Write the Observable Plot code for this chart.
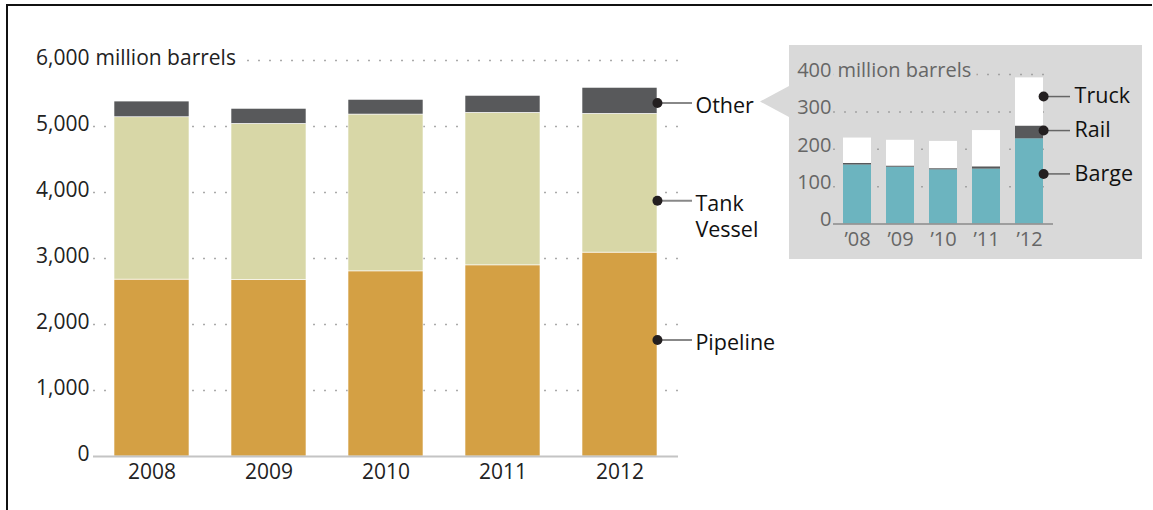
<!DOCTYPE html>
<html>
<head>
<meta charset="utf-8">
<script src="https://cdn.jsdelivr.net/npm/d3@7"></script>
<script src="https://cdn.jsdelivr.net/npm/@observablehq/plot@0.6"></script>
<style>
  html, body { margin: 0; padding: 0; background: #fff; }
  #chart { position: relative; width: 1153px; height: 510px; overflow: hidden; }
  #frame { position: absolute; left: 6px; top: 4px; width: 1146px; height: 520px;
           border-top: 2px solid #111; border-left: 2px solid #111; box-sizing: border-box; }
  #chart svg { position: absolute; left: 0; top: 0; }
</style>
</head>
<body>
<div id="chart"><div id="frame"></div></div>
<script>
// Crude oil moved by mode of transport, million barrels
const years = ["2008", "2009", "2010", "2011", "2012"];
const pipeline = [2680, 2675, 2805, 2896, 3089];
const tankVessel = [2460, 2365, 2376, 2311, 2103];
const other = [238, 228, 223, 258, 394];
const modes = ["Pipeline", "Tank Vessel", "Other"];
const modeColors = ["#d4a044", "#d8d7a7", "#58595b"];
const mainTicks = [0, 1000, 2000, 3000, 4000, 5000, 6000];
const mainLabels = ["Other", "Tank\nVessel", "Pipeline"];
const mainLabelAt = [5355, 3875, 1765];

// Breakdown of "Other"
const insetYears = ["\u201908", "\u201909", "\u201910", "\u201911", "\u201912"];
const barge = [158, 152, 145, 147, 228];
const rail = [4, 3, 3, 6, 34];
const truck = [68, 69, 73, 97, 129];
const insetModes = ["Barge", "Rail", "Truck"];
const insetColors = ["#6cb4bf", "#58595b", "#ffffff"];
const insetTicks = [0, 100, 200, 300, 400];
const insetLabels = ["Truck", "Rail", "Barge"];
const insetLabelAt = [341, 250, 134];

const W = 1153, H = 510;
const font = "'Open Sans', sans-serif";
const fmt = d3.format(",");

// ---- main stacked bars ----
const mainLeft = 93, mainRight = 678, mainBase = 456, mainTop = 60;
const mainInner = 0.36, mainOuter = 0.18;
const mainBw = (mainRight - mainLeft) / (years.length - mainInner + 2 * mainOuter) * (1 - mainInner);
const series = [pipeline, tankVessel, other];
const rows = years.flatMap((year, i) => modes.map((mode, j) => ({year, mode, value: series[j][i]})));
const lastYear = years[years.length - 1];

const main = Plot.plot({
  width: W, height: H,
  marginLeft: mainLeft, marginRight: W - mainRight, marginTop: mainTop, marginBottom: H - mainBase,
  style: {fontFamily: font, fontSize: "21px", color: "#222", background: "transparent", overflow: "visible"},
  x: {domain: years, paddingInner: mainInner, paddingOuter: mainOuter},
  y: {domain: [0, 6000], axis: null},
  color: {domain: modes, range: modeColors},
  marks: [
    Plot.ruleY(mainTicks.filter(d => d > 0), {stroke: "#aaa", strokeWidth: 1.5, strokeDasharray: "2,9"}),
    Plot.barY(rows, {x: "year", y: "value", fill: "mode", order: modes, stroke: "#fff", strokeWidth: 0.6}),
    Plot.ruleY([0], {stroke: "#c4c4c4", strokeWidth: 2}),
    Plot.axisX({tickSize: 0, tickPadding: 8, fontSize: 21, fill: "#222", label: null}),
    Plot.text([mainTicks[mainTicks.length - 1]], {y: d => d, text: () => "million barrels", frameAnchor: "left",
      textAnchor: "start", dx: 2, dy: -2, fill: "#222", stroke: "#fff", strokeWidth: 14, paintOrder: "stroke"}),
    Plot.text(mainTicks, {y: d => d, text: d => fmt(d), frameAnchor: "left", textAnchor: "end", dx: -4, dy: -2, fill: "#222"}),
    Plot.tickY(mainLabelAt, {x: () => lastYear, y: d => d, dx: mainBw, insetRight: mainBw - 35, stroke: "#888", strokeWidth: 2}),
    Plot.dot(mainLabelAt, {x: () => lastYear, y: d => d, dx: mainBw / 2, r: 5, fill: "#231f20"}),
    Plot.text(mainLabelAt, {x: () => lastYear, y: d => d, text: (d, i) => mainLabels[i], dx: mainBw / 2 + 38, dy: -8,
      textAnchor: "start", lineAnchor: "top", lineHeight: 1.2, fontSize: 21.5, fill: "#111"})
  ]
});

// ---- inset: the "Other" category split by mode ----
const inLeft = 833, inRight = 1053, inBase = 223.5, inTop = 74;
const inInner = 0.35, inOuter = 0.21;
const inBw = (inRight - inLeft) / (insetYears.length - inInner + 2 * inOuter) * (1 - inInner);
const inSeries = [barge, rail, truck];
const inRows = insetYears.flatMap((year, i) => insetModes.map((mode, j) => ({year, mode, value: inSeries[j][i]})));
const lastInset = insetYears[insetYears.length - 1];

const inset = Plot.plot({
  width: W, height: H,
  marginLeft: inLeft, marginRight: W - inRight, marginTop: inTop, marginBottom: H - inBase,
  style: {fontFamily: font, fontSize: "20px", color: "#666", background: "transparent", overflow: "visible"},
  x: {domain: insetYears, paddingInner: inInner, paddingOuter: inOuter},
  y: {domain: [0, 400], axis: null},
  color: {domain: insetModes, range: insetColors},
  marks: [
    Plot.ruleY(insetTicks.filter(d => d > 0), {stroke: "#a3a3a3", strokeWidth: 1.5, strokeDasharray: "2,9"}),
    Plot.barY(inRows, {x: "year", y: "value", fill: "mode", order: insetModes}),
    Plot.ruleY([0], {stroke: "#8a8a8a", strokeWidth: 1.5}),
    Plot.axisX({tickSize: 0, tickPadding: 8, fontSize: 20, fill: "#666", label: null}),
    Plot.text([insetTicks[insetTicks.length - 1]], {y: d => d, text: () => "million barrels", frameAnchor: "left",
      textAnchor: "start", dx: 4, dy: -4, fill: "#666", stroke: "#d9d9d9", strokeWidth: 12, paintOrder: "stroke"}),
    Plot.text(insetTicks, {y: d => d, text: d => fmt(d), frameAnchor: "left", textAnchor: "end", dx: -2, dy: -4, fill: "#666"}),
    Plot.tickY(insetLabelAt, {x: () => lastInset, y: d => d, dx: inBw, insetRight: inBw - 27, stroke: "#666", strokeWidth: 1.5}),
    Plot.dot(insetLabelAt, {x: () => lastInset, y: d => d, dx: inBw / 2, r: 5, fill: "#231f20"}),
    Plot.text(insetLabelAt, {x: () => lastInset, y: d => d, text: (d, i) => insetLabels[i], dx: inBw / 2 + 31,
      textAnchor: "start", fontSize: 21.5, fill: "#111"})
  ]
});

// grey callout panel behind the inset, pointing at "Other"
d3.select(inset).insert("path", ":first-child")
  .attr("d", "M789,45H1142V259H789V117L760,101.5L789,86Z")
  .attr("fill", "#d9d9d9");

const chart = document.getElementById("chart");
chart.appendChild(main);
chart.appendChild(inset);
</script>
</body>
</html>
